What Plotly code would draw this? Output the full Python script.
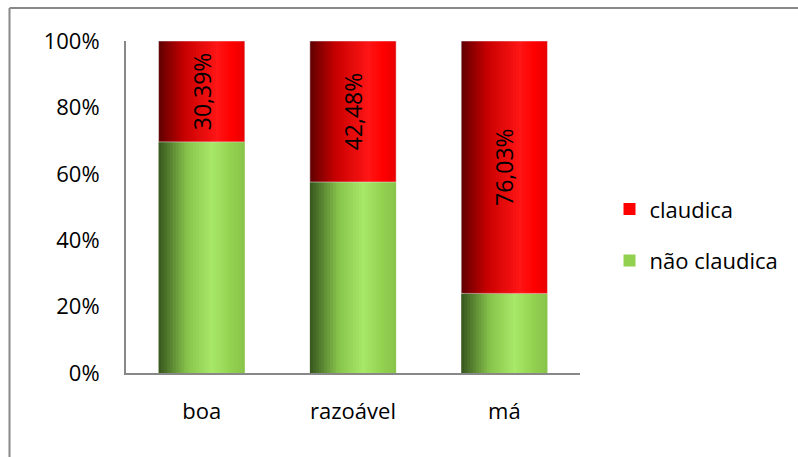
import plotly.graph_objects as go

categories = ['boa', 'razoável', 'má']
claudica = [30.39, 42.48, 76.03]
nao_claudica = [69.61, 57.52, 23.97]
label_text = ['30,39%', '42,48%', '76,03%']
y_ticks = [0, 20, 40, 60, 80, 100]
y_tick_labels = ['0%', '20%', '40%', '60%', '80%', '100%']

FONT = 'Open Sans'
BAR_W = 0.57
N = 30

# colour stops across the bar (position 0..1 -> rgb) to fake the cylinder shading
red_stops = [(0.0, (95, 0, 0)), (0.3, (200, 0, 0)), (0.68, (255, 22, 22)), (0.85, (255, 0, 0)), (1.0, (232, 0, 0))]
green_stops = [(0.0, (55, 85, 30)), (0.33, (135, 195, 75)), (0.62, (168, 232, 104)), (0.85, (146, 208, 80)), (1.0, (136, 196, 74))]


def shade(stops, t):
    for (p0, c0), (p1, c1) in zip(stops, stops[1:]):
        if p0 <= t <= p1:
            f = (t - p0) / (p1 - p0)
            return 'rgb(%d,%d,%d)' % tuple(round(a + (b - a) * f) for a, b in zip(c0, c1))
    return 'rgb(%d,%d,%d)' % stops[-1][1]


fig = go.Figure()
sw = BAR_W / N
legend_slice = 25

# green part (não claudica)
for i in range(N):
    t = (i + 0.5) / N
    fig.add_trace(go.Bar(
        x=categories, y=nao_claudica, width=sw * (1.8 if i < N - 1 else 1.0),
        offset=-BAR_W / 2 + i * sw,
        marker=dict(color=shade(green_stops, t), line=dict(width=0)),
        name='não claudica', legendgroup='nc', showlegend=(i == legend_slice),
        legendrank=2, hoverinfo='skip'))

# red part (claudica) sits on top of the green
for i in range(N):
    t = (i + 0.5) / N
    fig.add_trace(go.Bar(
        x=categories, y=claudica, base=nao_claudica, width=sw * (1.8 if i < N - 1 else 1.0),
        offset=-BAR_W / 2 + i * sw,
        marker=dict(color=shade(red_stops, t), line=dict(width=0)),
        name='claudica', legendgroup='c', showlegend=(i == legend_slice),
        legendrank=1, hoverinfo='skip'))

# data labels
fig.add_trace(go.Bar(
    x=categories, y=claudica, base=nao_claudica, width=BAR_W,
    marker=dict(color='rgba(0,0,0,0)'), text=label_text, textposition='inside',
    insidetextanchor='middle', textangle=-90,
    textfont=dict(family=FONT, size=23, color='black'),
    showlegend=False, hoverinfo='skip'))

# outer chart border (left and top edges are the only ones inside the picture)
px_x = lambda p: (p - 126) / 454
px_y = lambda p: (373 - p) / 332
border = dict(type='line', xref='paper', yref='paper', line=dict(color='#888888', width=2))

fig.update_layout(
    barmode='overlay',
    width=798, height=457,
    margin=dict(l=126, r=218, t=41, b=84, autoexpand=False),
    paper_bgcolor='white', plot_bgcolor='white',
    font=dict(family=FONT, size=22, color='black'),
    legend=dict(x=1.065, y=0.415, xanchor='left', yanchor='middle',
                font=dict(family=FONT, size=22), tracegroupgap=20, itemwidth=30),
    shapes=[dict(border, x0=px_x(9.5), x1=px_x(9.5), y0=px_y(457), y1=px_y(8)),
            dict(border, x0=px_x(9.5), x1=px_x(798), y0=px_y(8), y1=px_y(8))],
)
fig.update_xaxes(showline=True, linecolor='#888888', linewidth=2, ticks='',
                 showgrid=False, ticklabelstandoff=18, tickfont=dict(size=22),
                 automargin=False)
fig.update_yaxes(range=[0, 100], tickvals=y_ticks, ticktext=y_tick_labels,
                 showline=True, linecolor='#888888', linewidth=2, ticks='',
                 showgrid=False, zeroline=False, ticklabelstandoff=20,
                 tickfont=dict(size=22), automargin=False)

fig.write_html('out.html', config={'displayModeBar': False},
               post_script="document.body.style.margin='0';")
